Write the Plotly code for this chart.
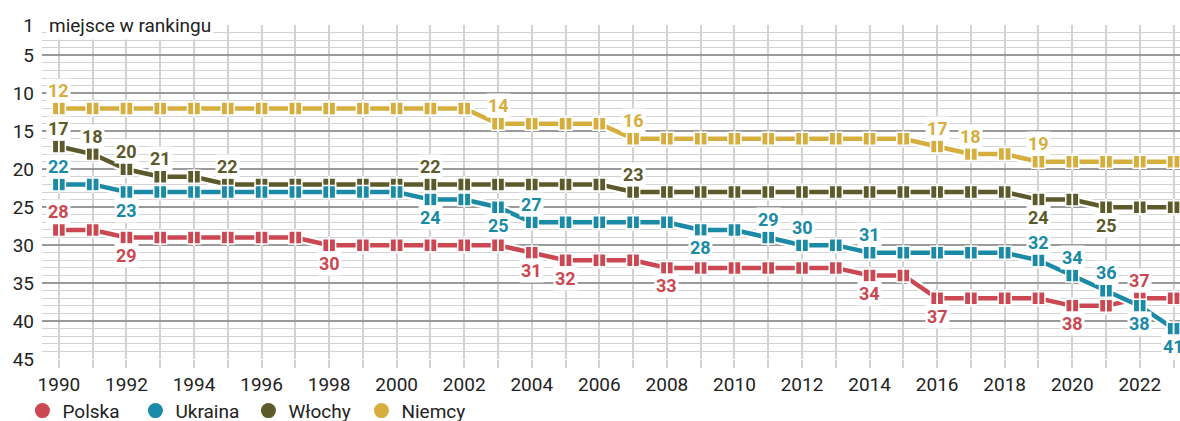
import plotly.graph_objects as go

years = list(range(1990, 2024))

polska = [28, 28, 29, 29, 29, 29, 29, 29, 30, 30, 30, 30, 30, 30, 31, 32, 32, 32,
          33, 33, 33, 33, 33, 33, 34, 34, 37, 37, 37, 37, 38, 38, 37, 37]
ukraina = [22, 22, 23, 23, 23, 23, 23, 23, 23, 23, 23, 24, 24, 25, 27, 27, 27, 27,
           27, 28, 28, 29, 30, 30, 31, 31, 31, 31, 31, 32, 34, 36, 38, 41]
wlochy = [17, 18, 20, 21, 21, 22, 22, 22, 22, 22, 22, 22, 22, 22, 22, 22, 22, 23,
          23, 23, 23, 23, 23, 23, 23, 23, 23, 23, 23, 24, 24, 25, 25, 25]
niemcy = [12, 12, 12, 12, 12, 12, 12, 12, 12, 12, 12, 12, 12, 14, 14, 14, 14, 16,
          16, 16, 16, 16, 16, 16, 16, 16, 17, 18, 18, 19, 19, 19, 19, 19]

names = ["Polska", "Ukraina", "Włochy", "Niemcy"]
colors = ["#cb4852", "#1a8aa6", "#5c5a2b", "#d6ae3e"]

# labelled years and whether the label sits above (1) or below (-1)
polska_lbl_years = [1990, 1992, 1998, 2004, 2005, 2008, 2014, 2016, 2020, 2022]
polska_lbl_side = [1, -1, -1, -1, -1, -1, -1, -1, -1, 1]
ukraina_lbl_years = [1990, 1992, 2001, 2003, 2004, 2009, 2011, 2012, 2014, 2019, 2020, 2021, 2022, 2023]
ukraina_lbl_side = [1, -1, -1, -1, 1, -1, 1, 1, 1, 1, 1, 1, -1, -1]
wlochy_lbl_years = [1990, 1991, 1992, 1993, 1995, 2001, 2007, 2019, 2021]
wlochy_lbl_side = [1, 1, 1, 1, 1, 1, 1, -1, -1]
niemcy_lbl_years = [1990, 2003, 2007, 2016, 2017, 2019]
niemcy_lbl_side = [1, 1, 1, 1, 1, 1]

y_ticks = [1, 5, 10, 15, 20, 25, 30, 35, 40, 45]
axis_title = "miejsce w rankingu"

series = [polska, ukraina, wlochy, niemcy]
lbl_years = [polska_lbl_years, ukraina_lbl_years, wlochy_lbl_years, niemcy_lbl_years]
lbl_sides = [polska_lbl_side, ukraina_lbl_side, wlochy_lbl_side, niemcy_lbl_side]

FONT = "Roboto"
fig = go.Figure()

draw_order = [3, 2, 0, 1]
for i in draw_order:
    vals = series[i]
    c = colors[i]
    fig.add_trace(go.Scatter(x=years, y=vals, mode="lines",
                             line=dict(color="white", width=9),
                             showlegend=False, hoverinfo="skip", cliponaxis=False))
    fig.add_trace(go.Scatter(x=years, y=vals, mode="lines+markers",
                             line=dict(color=c, width=4.5),
                             marker=dict(symbol="square", size=13, color=c,
                                         line=dict(color="white", width=1.5)),
                             showlegend=False, name=names[i], cliponaxis=False))
    fig.add_trace(go.Scatter(x=years, y=vals, mode="markers",
                             marker=dict(symbol="line-ns", size=12,
                                         line=dict(color="white", width=1.8)),
                             showlegend=False, hoverinfo="skip", cliponaxis=False))

for i in range(4):
    fig.add_trace(go.Scatter(x=[None], y=[None], mode="markers", name=names[i],
                             marker=dict(symbol="circle", size=15, color=colors[i]),
                             showlegend=True))

annotations = []
for i in range(4):
    for yr, side in zip(lbl_years[i], lbl_sides[i]):
        v = series[i][years.index(yr)]
        annotations.append(dict(
            x=yr, y=v, xref="x", yref="y", text=str(v), showarrow=False,
            yshift=18 * side, bgcolor="white", borderpad=1,
            font=dict(family=FONT, size=18, color=colors[i], weight="bold")))

annotations.append(dict(
    x=0, y=1, xref="paper", yref="y", text=axis_title, showarrow=False,
    xanchor="left", yanchor="middle", xshift=4, bgcolor="white", borderpad=2,
    font=dict(family=FONT, size=19, color="#222222")))

fig.update_layout(
    width=1180, height=432,
    margin=dict(l=42, r=0, t=25, b=73.3, autoexpand=False),
    plot_bgcolor="white", paper_bgcolor="white",
    font=dict(family=FONT, size=19, color="#222222"),
    annotations=annotations,
    showlegend=True,
    legend=dict(orientation="h", x=-0.0172, xanchor="left", y=-0.098, yanchor="top",
                font=dict(family=FONT, size=19, color="#222222"),
                itemwidth=30, tracegroupgap=0, bgcolor="rgba(0,0,0,0)",
                entrywidthmode="pixels", entrywidth=68),
)

fig.update_xaxes(
    range=[1989.5, 2023.19], dtick=2, tick0=1990,
    showgrid=True, gridcolor="#d2d2d2", gridwidth=1.5,
    ticks="outside", ticklen=8, tickcolor="#d2d2d2", tickwidth=1.5,
    minor=dict(dtick=1, tick0=1990, showgrid=True, gridcolor="#d2d2d2", gridwidth=1.5,
               ticks="outside", ticklen=8, tickcolor="#d2d2d2", tickwidth=1.5),
    showline=False, zeroline=False,
    tickfont=dict(family=FONT, size=19, color="#222222"),
)

fig.update_yaxes(
    range=[45, 1], tickmode="array", tickvals=y_ticks,
    showgrid=True, gridcolor="#9a9a9a", gridwidth=1.5,
    minor=dict(dtick=1, tick0=0, showgrid=True, gridcolor="#d2d2d2", gridwidth=1.2),
    showline=False, zeroline=False, ticks="", ticklabelstandoff=7,
    tickfont=dict(family=FONT, size=19, color="#222222"),
)

fig.write_html("out.html", config={"displayModeBar": False},
               post_script="document.body.style.margin='0';document.body.style.overflow='hidden';")
